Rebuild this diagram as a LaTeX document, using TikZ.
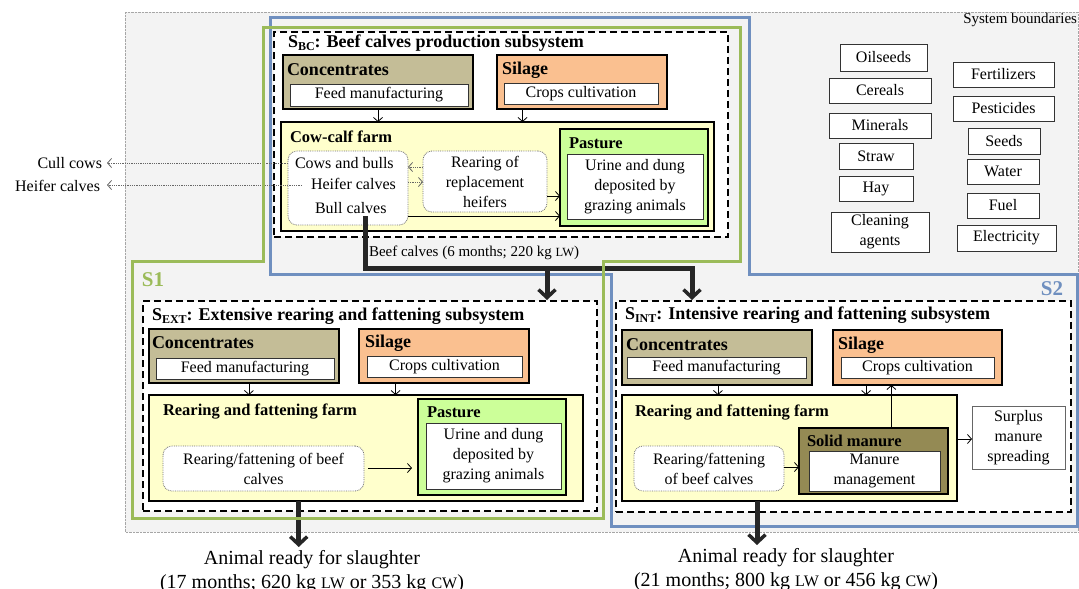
\documentclass[tikz,border=0pt]{standalone}
\usepackage{fontspec}
\setmainfont{Liberation Serif}
\usetikzlibrary{arrows.meta,fit,calc}
\definecolor{tanC}{HTML}{C4BD97}
\definecolor{silC}{HTML}{FAC090}
\definecolor{farmC}{HTML}{FFFFCC}
\definecolor{pastC}{HTML}{CCFF99}
\definecolor{manC}{HTML}{948A54}
\definecolor{bluB}{HTML}{6F8FBF}
\definecolor{grnB}{HTML}{9BBB59}
\definecolor{bgC}{HTML}{F3F3F3}
\newcommand\fa{\fontsize{16}{20}\selectfont}
\newcommand\fb{\fontsize{18}{21}\selectfont\bfseries}
\newcommand\fc{\fontsize{16.5}{20}\selectfont\bfseries}
\newcommand\fs{\fontsize{15}{18}\selectfont}
\newcommand\fl{\fontsize{20}{24}\selectfont}
\newcommand\smc[1]{{\fontsize{12.5}{12}\selectfont #1}}
\newcommand\smcl[1]{{\fontsize{16}{12}\selectfont #1}}
\newcommand\sbs[1]{\raisebox{-3pt}{\fontsize{12}{12}\selectfont #1}}
\begin{document}
\begin{tikzpicture}[x=1pt,y=-1pt,
  every node/.style={font=\fa, inner sep=0pt, outer sep=0pt},
  fitb/.style={inner sep=0pt, outer sep=0pt},
  txt/.style={label={[align=center]center:#1}},
  cbox/.style={fitb, draw=black, line width=1.8pt},
  wbox/.style={fitb, draw=black!80, line width=0.9pt, fill=white},
  rbox/.style={fitb, draw=black!55, densely dotted, line width=0.8pt, rounded corners=9pt, fill=white},
  dbox/.style={fitb, draw=black, line width=2.4pt, dash pattern=on 7pt off 4pt, fill=white},
  ttl/.style={font=\fb, anchor=west},
  ttlb/.style={font=\fc, anchor=west},
  sarr/.style={line width=0.8pt, -{Straight Barb[length=4pt,width=9pt]}},
  darr/.style={line width=0.8pt, black!60, densely dotted, -{Straight Barb[length=4pt,width=9pt]}},
  tarr/.style={line width=5pt, black!85, -{Straight Barb[length=8pt,width=17pt,line width=3.5pt]}},
  tline/.style={line width=5pt, black!85},
]
\useasboundingbox (0,0) rectangle (1079,589);
% background system boundary
\draw[black!35, densely dotted, fill=bgC] (125,12) rectangle (1078,532);
\node[anchor=east, font=\fs] (sysb) at (1077,20) {System boundaries};
% blue boundary
\draw[bluB, line width=3pt] (270,17) -- (749,17) -- (749,274) -- (1077,274) -- (1077,526) -- (611,526) -- (611,274) -- (270,274) -- cycle;

% ---------- S_BC ----------
\node[dbox, fit={(274,32) (728,237)}] (sbc) {};
\node[ttl] at (288,43) {S\sbs{BC}: Beef calves production subsystem};
\node[cbox, fill=tanC, fit={(283,55) (473,109)}] (conc1) {};
\node[ttl] at (287,70) {Concentrates};
\node[wbox, fit={(290,84) (468,106)}, txt={Feed manufacturing}] (conc1in) {};
\node[cbox, fill=silC, fit={(497,55) (667,109)}] (sil1) {};
\node[ttl] at (502,70) {Silage};
\node[wbox, fit={(504,83) (658,104)}, txt={Crops cultivation}] (sil1in) {};
\node[cbox, fill=farmC, fit={(281,122) (714,231)}] (farm1) {};
\node[ttlb] at (290,137) {Cow-calf farm};
\node[rbox, fit={(288,151) (408,225)}] (cows) {};
\node[anchor=west] (cowsb) at (295,163) {Cows and bulls};
\node[anchor=west] (heif) at (311,184) {Heifer calves};
\node[anchor=west] (bull) at (315,208) {Bull calves};
\node[rbox, fit={(423,151) (547,212)}, txt={Rearing of\\replacement\\heifers}] (rear) {};
\node[cbox, fill=pastC, fit={(560,129) (708,226)}] (past1) {};
\node[ttlb] at (569,143) {Pasture};
\node[wbox, fit={(567,154) (703,219)}, txt={Urine and dung\\deposited by\\grazing animals}] (past1in) {};
% arrows S_BC
\draw[sarr] (conc1.south) -- (conc1.south |- farm1.north);
\draw[sarr] ($(sil1.south west)!0.15!(sil1.south east)$) coordinate (s1a) -- (s1a |- farm1.north);
\draw[darr] (rear.west |- 0,167) -- (cows.east |- 0,167);
\draw[darr] (cows.east |- 0,182) -- (rear.west |- 0,182);
\draw[sarr] (rear.east |- 0,196) -- (past1.west |- 0,196);
\draw[sarr] (cows.east |- 0,216) -- (past1.west |- 0,216);
% outputs
\node[anchor=east] (cull) at (102,163) {Cull cows};
\node[anchor=east] (hcal) at (100,186) {Heifer calves};
\draw[darr] (cows.west |- cull) -- ($(cull.east)+(5,0)$);
\coordinate (hstart) at (302,185);
\draw[darr] (hstart) -- ($(hcal.east)+(7,-1)$);

% ---------- S_EXT ----------
\node[dbox, fit={(143,301) (597,511)}] (sext) {};
\node[ttl] at (152,316) {S\sbs{EXT}: Extensive rearing and fattening subsystem};
\node[cbox, fill=tanC, fit={(149,329) (339,383)}] (conc2) {};
\node[ttl] at (152,343) {Concentrates};
\node[wbox, fit={(156,358) (334,379)}, txt={Feed manufacturing}] (conc2in) {};
\node[cbox, fill=silC, fit={(359,329) (529,383)}] (sil2) {};
\node[ttl] at (365,343) {Silage};
\node[wbox, fit={(367,356) (522,377)}, txt={Crops cultivation}] (sil2in) {};
\node[cbox, fill=farmC, fit={(149,395) (583,501)}] (farm2) {};
\node[ttlb] at (163,412) {Rearing and fattening farm};
\node[cbox, fill=pastC, fit={(418,399) (566,495)}] (past2) {};
\node[ttlb] at (427,412) {Pasture};
\node[wbox, fit={(426,423) (561,489)}, txt={Urine and dung\\deposited by\\grazing animals}] (past2in) {};
\node[rbox, fit={(163,446) (364,491)}, txt={Rearing/fattening of beef\\calves}] (rf2) {};
\draw[sarr] ($(conc2.south west)!0.526!(conc2.south east)$) coordinate (c2a) -- (c2a |- farm2.north);
\draw[sarr] ($(sil2.south west)!0.215!(sil2.south east)$) coordinate (s2a) -- (s2a |- farm2.north);
\draw[sarr, shorten <=4pt, shorten >=6pt] (rf2.east |- 0,468) -- (past2.west |- 0,468);

% ---------- S_INT ----------
\node[dbox, fit={(616,301) (1071,512)}] (sint) {};
\node[ttl] at (625,315) {S\sbs{INT}: Intensive rearing and fattening subsystem};
\node[cbox, fill=tanC, fit={(622,330) (812,385)}] (conc3) {};
\node[ttl] at (626,345) {Concentrates};
\node[wbox, fit={(627,357) (806,378)}, txt={Feed manufacturing}] (conc3in) {};
\node[cbox, fill=silC, fit={(833,330) (1002,385)}] (sil3) {};
\node[ttl] at (838,345) {Silage};
\node[wbox, fit={(841,357) (994,378)}, txt={Crops cultivation}] (sil3in) {};
\node[cbox, fill=farmC, fit={(622,395) (957,501)}] (farm3) {};
\node[ttlb] at (635,413) {Rearing and fattening farm};
\node[cbox, fill=manC, fit={(799,428) (948,494)}] (man3) {};
\node[ttlb] at (807,441) {Solid manure};
\node[wbox, fit={(809,451) (940,491)}, txt={Manure\\management}] (man3in) {};
\node[rbox, fit={(634,446) (784,491)}, txt={Rearing/fattening\\of beef calves}] (rf3) {};
\node[fitb, draw=black!60, line width=0.9pt, fill=white, fit={(972,406) (1065,469)}, txt={Surplus\\manure\\spreading}] (surp) {};
\draw[sarr] ($(conc3.south west)!0.505!(conc3.south east)$) coordinate (c3a) -- (c3a |- farm3.north);
\draw[sarr] ($(sil3.south west)!0.196!(sil3.south east)$) coordinate (s3a) -- (s3a |- farm3.north);
\draw[sarr] ($(man3.north west)!0.62!(man3.north east)$) coordinate (m3a) -- (m3a |- sil3.south);
\draw[sarr] (rf3.east |- 0,467) -- (man3.west |- 0,467);
\draw[sarr] (farm3.east |- 0,439) -- (surp.west |- 0,439);

% ---------- thick flows ----------
\coordinate (bc) at (365,216);
\coordinate (sintIn) at (692,300);
\coordinate (sextIn) at (547,300);
\draw[tline] (bc) |- ($(sintIn)+(0,-32)$) -- ($(sintIn)+(0,-12)$);
\draw[tarr] ($(sintIn)+(0,-14)$) -- (sintIn);
\draw[tarr] (sextIn |- 0,268) -- (sextIn);
\node[anchor=west, font=\fs] (beefc) at (369,253) {Beef calves (6 months; 220 kg \smc{LW})};

\node[align=center, font=\fl] (sl1) at (312,572) {Animal ready for slaughter\\(17 months; 620 kg \smcl{LW} or 353 kg \smcl{CW})};
\node[align=center, font=\fl] (sl2) at (786,570) {Animal ready for slaughter\\(21 months; 800 kg \smcl{LW} or 456 kg \smcl{CW})};
\draw[tarr] ($(farm2.south west)!0.345!(farm2.south east)$) coordinate (f2a) -- (f2a |- 0,547);
\draw[tarr] ($(farm3.south west)!0.403!(farm3.south east)$) coordinate (f3a) -- (f3a |- 0,545);

% ---------- green boundary ----------
\draw[grnB, line width=3pt] (263,27) -- (740,27) -- (740,261) -- (603,261) -- (603,518) -- (132,518) -- (132,261) -- (263,261) -- cycle;
\node[font=\fontsize{21}{24}\selectfont\bfseries, text=grnB] (s1l) at (153,280) {S1};
\node[font=\fontsize{21}{24}\selectfont\bfseries, text=bluB] (s2l) at (1052,289) {S2};

% ---------- input boxes ----------
\foreach \nm/\xa/\ya/\xb/\yb/\tx in {
  oil/840/44/927/71/Oilseeds,
  cer/829/78/931/103/Cereals,
  min/829/113/931/138/Minerals,
  stw/839/143/913/169/Straw,
  hay/839/176/913/201/Hay,
  fer/953/62/1054/87/Fertilizers,
  pes/953/96/1054/121/Pesticides,
  sed/968/128/1040/154/Seeds,
  wat/967/159/1039/184/Water,
  fue/967/193/1039/218/Fuel,
  ele/957/225/1056/251/Electricity}{
  \node[wbox, fit={(\xa,\ya) (\xb,\yb)}, txt=\tx] (\nm) {};
}
\node[wbox, fit={(831,212) (929,252)}, txt={Cleaning\\agents}] (cln) {};
\end{tikzpicture}
\end{document}
